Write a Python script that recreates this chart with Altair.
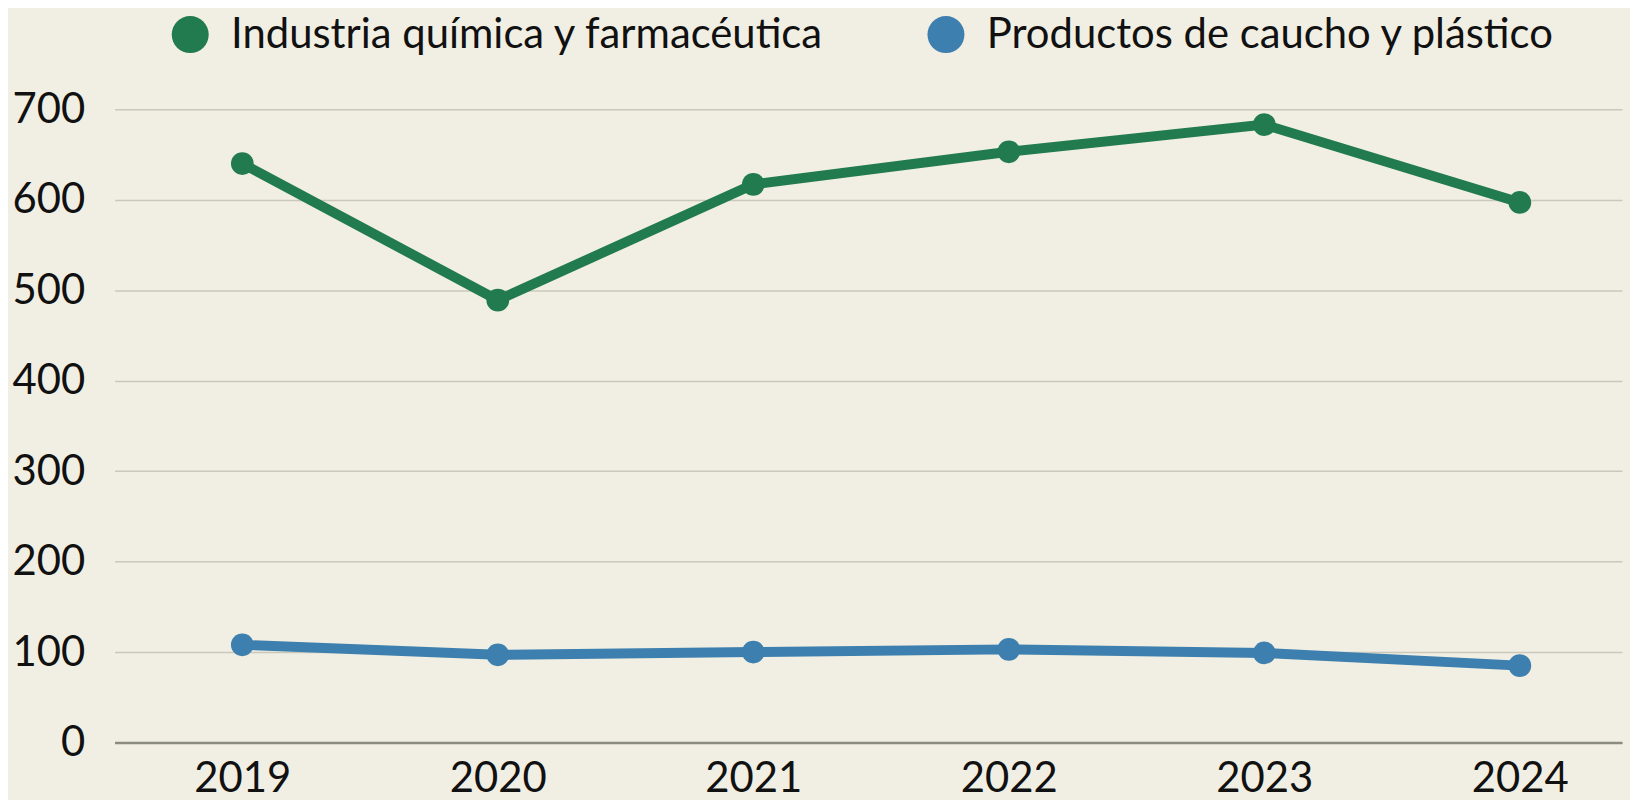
import altair as alt
import pandas as pd

years = [2019, 2020, 2021, 2022, 2023, 2024]
series_names = ["Industria química y farmacéutica", "Productos de caucho y plástico"]
quimica = [640, 489, 617, 653, 683, 597]
caucho = [108, 97, 100, 103, 99, 85]
colors = ["#227b4f", "#3d7fae"]
y_ticks = [0, 100, 200, 300, 400, 500, 600, 700]

rows = []
for y, v in zip(years, quimica):
    rows.append({"year": y, "value": v, "serie": series_names[0]})
for y, v in zip(years, caucho):
    rows.append({"year": y, "value": v, "serie": series_names[1]})
df = pd.DataFrame(rows)

FONT = "Lato"

x = alt.X("year:Q",
          scale=alt.Scale(domain=[2018.5, 2024.4], nice=False, zero=False),
          axis=alt.Axis(values=years, format="d", title=None, grid=False, ticks=False,
                        domain=True, domainColor="#8c8b82", domainWidth=2.5,
                        labelFontSize=42, labelColor="#111111", labelPadding=16,
                        labelFont=FONT, labelFlush=False))
y = alt.Y("value:Q",
          scale=alt.Scale(domain=[0, 700], nice=False),
          axis=alt.Axis(values=y_ticks, title=None, grid=True, gridColor="#c9c8bb",
                        gridWidth=1.5, ticks=False, domain=False,
                        labelFontSize=42, labelColor="#111111", labelPadding=30,
                        labelFont=FONT))
color = alt.Color("serie:N",
                  scale=alt.Scale(domain=series_names, range=colors),
                  legend=alt.Legend(title=None, orient="none", direction="horizontal",
                                    legendX=55, legendY=-96,
                                    symbolType="circle", symbolSize=1380,
                                    symbolStrokeWidth=0, symbolOpacity=1,
                                    labelFontSize=42, labelFont=FONT,
                                    labelColor="#111111", labelLimit=1000,
                                    labelOffset=20, columnPadding=100))

base = alt.Chart(df)
lines = base.mark_line(strokeWidth=10).encode(x=x, y=y, color=color)
points = base.mark_circle(size=520, opacity=1).encode(x=x, y=y, color=color)

chart = (lines + points).properties(
    width=1514, height=636,
    background="#f1efe3",
    autosize=alt.AutoSizeParams(type="none"),
    padding={"left": 107, "top": 100, "right": 8, "bottom": 56},
).configure_view(stroke=None).configure_legend(symbolType="circle")

chart.save("out.html", embed_options={"renderer": "svg", "actions": False})
